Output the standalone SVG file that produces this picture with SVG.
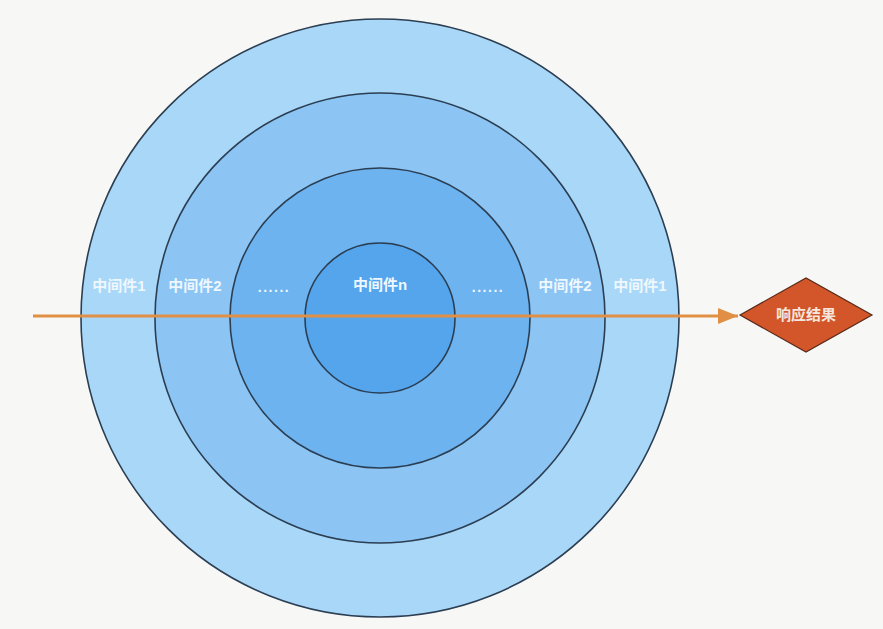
<svg xmlns="http://www.w3.org/2000/svg" width="883" height="629" viewBox="0 0 883 629">
  <defs>
    <marker id="arrow" viewBox="0 0 20 16" refX="20" refY="8" markerWidth="20" markerHeight="16" markerUnits="userSpaceOnUse" orient="auto">
      <path d="M0,0 L20,8 L0,16 Z" fill="#e08f45"/>
    </marker>
    <style>
      .ring { stroke: #2b3e52; stroke-width: 1.6; }
      .lbl { font-family: "Liberation Sans", "Noto Sans CJK SC", sans-serif; font-size: 15px; font-weight: bold; fill: #eef7fd; text-anchor: middle; }
      .dots { font-family: "Liberation Sans", sans-serif; font-size: 14px; font-weight: bold; fill: #eef7fd; text-anchor: middle; letter-spacing: 1.5px; }
    </style>
  </defs>
  <rect width="883" height="629" fill="#f7f7f5"/>
  <g id="ring1">
    <circle class="ring" cx="380" cy="318" r="299" fill="#a9d7f8"/>
  </g>
  <g id="ring2">
    <circle class="ring" cx="380" cy="318" r="225" fill="#8cc5f4"/>
  </g>
  <g id="ring3">
    <circle class="ring" cx="380" cy="318" r="150" fill="#6db3f0"/>
  </g>
  <g id="ringn">
    <circle class="ring" cx="380" cy="318" r="75" fill="#55a5ed"/>
  </g>
  <g id="labels">
    <text class="lbl" x="119" y="291">中间件1</text>
    <text class="lbl" x="195" y="291">中间件2</text>
    <text class="dots" x="274" y="292">......</text>
    <text class="lbl" x="380" y="290">中间件n</text>
    <text class="dots" x="488" y="292">......</text>
    <text class="lbl" x="565" y="291">中间件2</text>
    <text class="lbl" x="640" y="291">中间件1</text>
  </g>
  <g id="connectors">
    <line x1="33" y1="316" x2="738" y2="316" stroke="#e08f45" stroke-width="3" marker-end="url(#arrow)"/>
  </g>
  <g id="result">
    <polygon points="740,315 806,278 872,315 806,352" fill="#d2562a" stroke="#5a2a18" stroke-width="1.2"/>
    <text class="lbl" x="806" y="320" style="fill:#f6e6dc">响应结果</text>
  </g>
</svg>
